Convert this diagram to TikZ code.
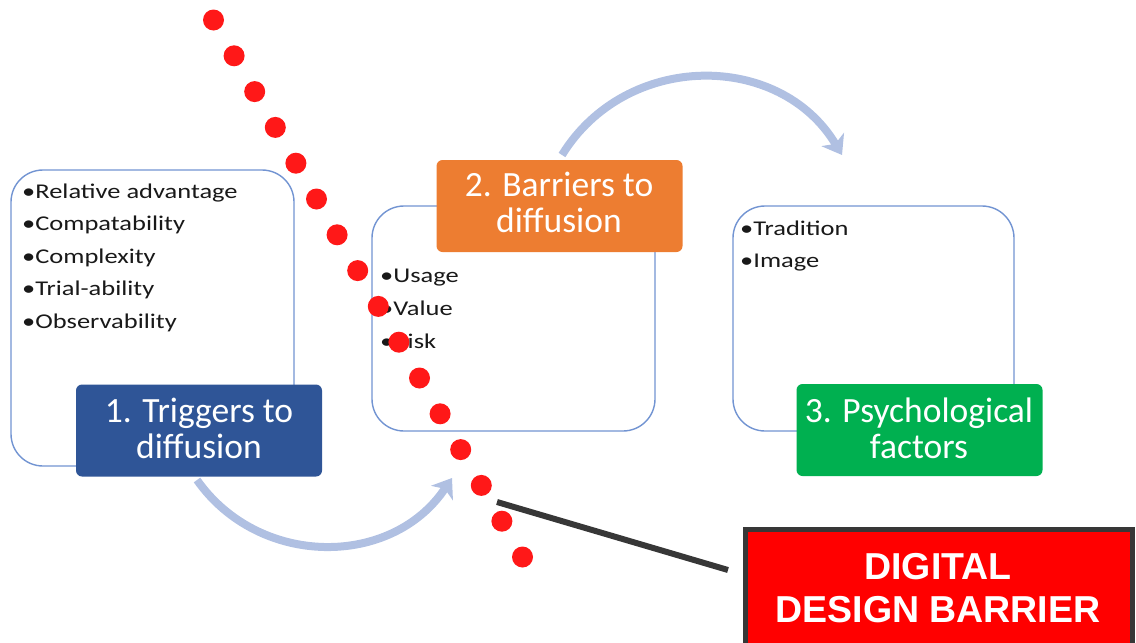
\documentclass[tikz,border=0pt]{standalone}
\usepackage{fontspec}
\setmainfont{Carlito}
\newfontfamily\itemfont[FakeStretch=1.26]{Carlito}
\newfontfamily\bannerfont{Liberation Sans}
\usetikzlibrary{arrows.meta}
\definecolor{flowarrow}{RGB}{176,192,226}
\definecolor{panelline}{RGB}{114,148,210}
\definecolor{triggerblue}{RGB}{47,85,151}
\definecolor{barrierorange}{RGB}{237,125,49}
\definecolor{psychgreen}{RGB}{0,176,80}
\definecolor{dotred}{RGB}{255,24,24}
\definecolor{edgegray}{RGB}{55,55,55}
\begin{document}
\begin{tikzpicture}[x=1pt,y=-1pt,
  flow/.style={draw=flowarrow,line width=8pt,-{Stealth[length=18pt,width=26pt,inset=5pt]}},
  panel/.style={draw=panelline,line width=1.4pt,fill=white,rounded corners=32pt,inner sep=0pt},
  titlebox/.style={rounded corners=6pt,inner sep=0pt,minimum width=246pt,minimum height=92pt},
  titletext/.style={text=white,font=\fontsize{35.5}{36}\selectfont,inner sep=0pt,anchor=base},
  item/.style={font=\itemfont\fontsize{21}{32}\selectfont,text=black!90,inner sep=0pt,anchor=base west},
  banner/.style={fill=red,draw=edgegray,line width=5pt,inner sep=0pt,minimum width=387pt,minimum height=121pt},
  bannertext/.style={text=white,font=\bannerfont\bfseries\fontsize{37.5}{43}\selectfont,inner sep=0pt,anchor=base},
  leader/.style={draw=edgegray,line width=6pt}]
\useasboundingbox (0,0) rectangle (1136,643);
\clip (0,0) rectangle (1136,643);

% curved flow arrows between the stages
\coordinate (fa1s) at (197,480);
\coordinate (fa1e) at (452,478);
\coordinate (fa2s) at (562,155);
\coordinate (fa2e) at (842,155);
\draw[flow] (fa1s) .. controls (259,568) and (392,568) .. (fa1e);
\draw[flow] (fa2s) .. controls (626,51) and (780,51) .. (fa2e);

% content panels
\node[panel,minimum width=283pt,minimum height=296pt] (p1) at (152.5,318) {};
\node[panel,minimum width=283pt,minimum height=225pt] (p2) at (513.5,318.5) {};
\node[panel,minimum width=281pt,minimum height=225pt] (p3) at (873.5,318.5) {};

% stage titles
\node[titlebox,fill=triggerblue] (t1) at (199,430.5) {};
\node[titletext] (t1a) at (199,422) {1. Triggers to};
\node[titletext] (t1b) at (199,458) {diffusion};
\node[titlebox,fill=barrierorange] (t2) at (559.5,206) {};
\node[titletext] (t2a) at (559,196) {2. Barriers to};
\node[titletext] (t2b) at (559,232) {diffusion};
\node[titlebox,fill=psychgreen] (t3) at (919.5,430) {};
\node[titletext] (t3a) at (919,422) {3. Psychological};
\node[titletext] (t3b) at (919,458) {factors};

% bullet lists
\node[item] (i1a) at (22,198) {•Relative advantage};
\node[item] (i1b) at (22,230.5) {•Compatability};
\node[item] (i1c) at (22,263) {•Complexity};
\node[item] (i1d) at (22,295.5) {•Trial-ability};
\node[item] (i1e) at (22,328) {•Observability};
\node[item] (i2a) at (380,282) {•Usage};
\node[item] (i2b) at (380,315) {•Value};
\node[item] (i2c) at (380,348) {•Risk};
\node[item] (i3a) at (740,235) {•Tradition};
\node[item] (i3b) at (740,267) {•Image};

% dotted barrier line
\foreach \k in {0,...,15}
  \fill[dotred] ({213.5+20.6*\k},{20+35.8*\k}) circle (10.5pt);

% callout
\coordinate (lk) at (497,502);
\coordinate (lkend) at (728,570);
\draw[leader] (lk) -- (lkend);
\node[banner] (dbb) at (938.5,589.5) {};
\node[bannertext] (dbba) at (938,579) {DIGITAL};
\node[bannertext] (dbbb) at (938,622) {DESIGN BARRIER};
\end{tikzpicture}
\end{document}
